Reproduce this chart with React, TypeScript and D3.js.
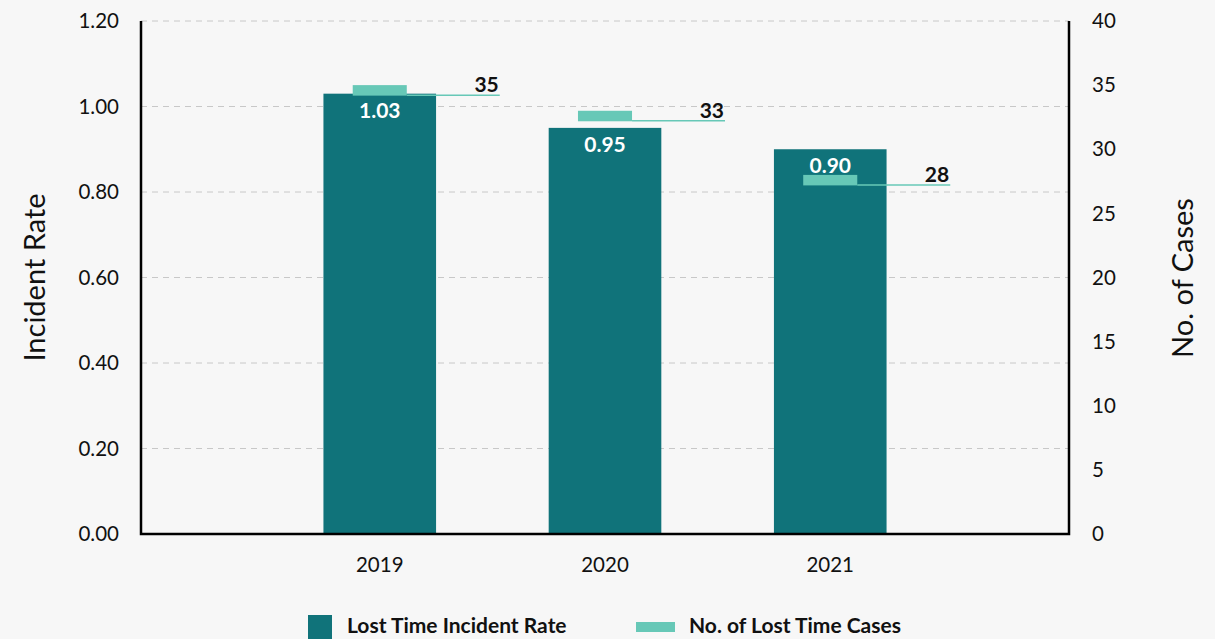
import React from "react";
import * as d3 from "d3";

const years = ["2019", "2020", "2021"];
const incidentRate = [1.03, 0.95, 0.9];
const lostTimeCases = [35, 33, 28];
const leftTicks = [0, 0.2, 0.4, 0.6, 0.8, 1.0, 1.2];
const rightTicks = [0, 5, 10, 15, 20, 25, 30, 35, 40];
const seriesNames = ["Lost Time Incident Rate", "No. of Lost Time Cases"];

const W = 1215;
const H = 639;
const FONT = "Lato, 'Open Sans', sans-serif";
const DARK = "#10737a";
const LIGHT = "#67c8b7";

export default function App() {
  const left = 141;
  const right = 1069;
  const top = 21;
  const bottom = 534;

  const x = d3
    .scaleBand<string>()
    .domain(years)
    .range([left, right])
    .paddingInner(0.5)
    .paddingOuter(0.81);
  const yL = d3.scaleLinear().domain([0, 1.2]).range([bottom, top]);
  const yR = d3.scaleLinear().domain([0, 40]).range([bottom, top]);
  const bw = x.bandwidth();

  return (
    <div style={{ position: "fixed", left: 0, top: 0, width: W, height: H, overflow: "hidden", background: "#f7f7f7" }}>
      <svg width={W} height={H} style={{ display: "block" }} fontFamily={FONT}>
        <rect width={W} height={H} fill="#f7f7f7" />
        {/* grid */}
        {leftTicks.filter((t) => t > 0).map((t) => (
          <line
            key={"g" + t}
            x1={left}
            x2={right}
            y1={yL(t)}
            y2={yL(t)}
            stroke="#c8c8c8"
            strokeWidth={1}
            strokeDasharray="6 5"
          />
        ))}
        {/* bars */}
        {years.map((yr, i) => (
          <rect
            key={"b" + yr}
            x={x(yr)}
            y={yL(incidentRate[i])}
            width={bw}
            height={bottom - yL(incidentRate[i])}
            fill={DARK}
          />
        ))}
        {years.map((yr, i) => (
          <text
            key={"bl" + yr}
            x={(x(yr) as number) + bw / 2}
            y={yL(incidentRate[i]) + 24}
            textAnchor="middle"
            fill="#ffffff"
            fontSize={21}
            fontWeight={700}
          >
            {incidentRate[i].toFixed(2)}
          </text>
        ))}
        {/* case markers */}
        {years.map((yr, i) => {
          const cx = (x(yr) as number) + bw / 2;
          const yt = yR(lostTimeCases[i]);
          const mw = bw * 0.48;
          return (
            <g key={"m" + yr}>
              <rect x={cx - mw / 2} y={yt} width={mw} height={10.5} fill={LIGHT} />
              <line
                x1={cx + mw / 2}
                x2={cx + 120}
                y1={yt + 10}
                y2={yt + 10}
                stroke={LIGHT}
                strokeWidth={1.5}
              />
              <text
                x={cx + 119}
                y={yt + 7}
                textAnchor="end"
                fill="#111"
                fontSize={21}
                fontWeight={700}
              >
                {lostTimeCases[i]}
              </text>
            </g>
          );
        })}
        {/* axes */}
        <path
          d={`M${left},${top}V${bottom}H${right}V${top}`}
          fill="none"
          stroke="#000"
          strokeWidth={2.5}
        />
        {leftTicks.map((t) => (
          <text
            key={"lt" + t}
            x={119}
            y={yL(t)}
            dy="0.35em"
            textAnchor="end"
            fontSize={20.5}
            fill="#111"
          >
            {t.toFixed(2)}
          </text>
        ))}
        {rightTicks.map((t) => (
          <text
            key={"rt" + t}
            x={1092}
            y={yR(t)}
            dy="0.35em"
            textAnchor="start"
            fontSize={20.5}
            fill="#111"
          >
            {t}
          </text>
        ))}
        {years.map((yr) => (
          <text
            key={"x" + yr}
            x={(x(yr) as number) + bw / 2}
            y={572}
            textAnchor="middle"
            fontSize={20.5}
            fill="#111"
          >
            {yr}
          </text>
        ))}
        <text
          transform={`translate(45,277.5) rotate(-90)`}
          textAnchor="middle"
          fontSize={29}
          fill="#111"
        >
          Incident Rate
        </text>
        <text
          transform={`translate(1193,278) rotate(-90)`}
          textAnchor="middle"
          fontSize={29}
          fill="#111"
        >
          No. of Cases
        </text>
        {/* legend */}
        <rect x={308} y={615} width={24} height={24} fill={DARK} />
        <text x={347} y={633} fontSize={21} fontWeight={700} fill="#111">
          {seriesNames[0]}
        </text>
        <rect x={636} y={622} width={39} height={10} fill={LIGHT} />
        <text x={689} y={633} fontSize={21} fontWeight={700} fill="#111">
          {seriesNames[1]}
        </text>
      </svg>
    </div>
  );
}
